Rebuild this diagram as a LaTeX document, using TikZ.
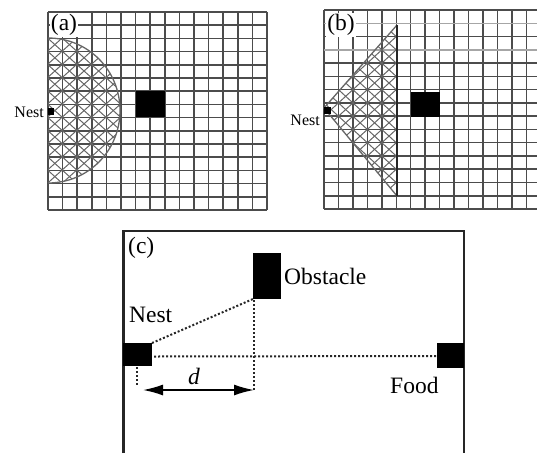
\documentclass[tikz,border=0pt]{standalone}
\usepackage{fontspec}
\usetikzlibrary{arrows.meta}
\setmainfont{Liberation Serif}
\tikzset{
  gline/.style={line width=1.5pt,draw=black!70},
  hatch/.style={line width=1pt,draw=black!60},
  block/.style={fill=black,draw=none,inner sep=0pt,outer sep=0pt,anchor=north west},
  frame/.style={line width=2.2pt,draw=black!85},
  dots/.style={line width=2pt,dash pattern=on 2pt off 2pt,draw=black!85},
  big/.style={font=\fontsize{23.5}{25}\selectfont,inner sep=0pt},
  small/.style={font=\fontsize{16}{18}\selectfont,inner sep=0pt}
}
\begin{document}
\begin{tikzpicture}[x=1pt,y=-1pt]
\useasboundingbox (0,0) rectangle (537,453);
% panel a grid
\foreach \i in {0,...,15}{
  \draw[gline] ({48+14.6*\i},12) -- ({48+14.6*\i},210);
  \draw[gline] (48,{12+13.2*\i}) -- (267,{12+13.2*\i});
}
\begin{scope}
  \clip (48,38) .. controls (88,38) and (120,70) .. (120,110.5) .. controls (120,151) and (88,183) .. (48,183) -- cycle;
  \foreach \k in {-14,...,14}{
    \draw[hatch] ({48+14.6*\k},25.2) -- ({48+14.6*\k+14.6*14},{25.2+13.2*14});
    \draw[hatch] ({48+14.6*\k},196) -- ({48+14.6*\k+14.6*14},{196-13.2*14});
  }
\end{scope}
\draw[hatch,line width=1.3pt] (48,38) .. controls (88,38) and (120,70) .. (120,110.5) .. controls (120,151) and (88,183) .. (48,183);
\node[block,minimum width=29pt,minimum height=26pt] (obsA) at (136,91) {};
\node[block,minimum width=6pt,minimum height=7pt] (nestA) at (48,108) {};
\node[small,anchor=east] (nestAl) at (44,112) {Nest};
\node[big,fill=white,anchor=center,inner sep=1pt] (la) at (64,25) {(a)};
% panel b grid
\foreach \i in {0,...,14}{
  \draw[gline] ({324+14.45*\i},10) -- ({324+14.45*\i},209);
}
\foreach \i in {0,...,15}{
  \ifnum\i=1\relax\else\ifnum\i=3\relax\else
  \draw[gline] (324,{10+13.27*\i}) -- (537,{10+13.27*\i});
  \fi\fi
}
\draw[line width=1.5pt,draw=black!35] (324,23.3) -- (537,23.3);
\draw[line width=1.5pt,draw=black!35] (324,49.8) -- (537,49.8);
\begin{scope}
  \clip (324,108) -- (397,25) -- (397,196) -- cycle;
  \foreach \k in {-14,...,14}{
    \draw[hatch] ({324+14.45*\k},23.3) -- ({324+14.45*\k+14.45*14},{23.3+13.27*14});
    \draw[hatch] ({324+14.45*\k},195.8) -- ({324+14.45*\k+14.45*14},{195.8-13.27*14});
  }
\end{scope}
\draw[hatch,line width=1.3pt] (397,25) -- (324,108) -- (397,196);
\draw[gline,draw=black!85] (397,25) -- (397,196);
\node[block,minimum width=29pt,minimum height=25pt] (obsB) at (411,92) {};
\node[block,minimum width=7pt,minimum height=7pt] (nestB) at (324,107) {};
\node[small,anchor=east] (nestBl) at (320,120) {Nest};
\node[big,fill=white,anchor=center,inner sep=1pt] (lb) at (341,25) {(b)};
% panel c
\draw[frame] (123.5,453) -- (123.5,231) -- (464,231) -- (464,453);
\node[block,minimum width=29pt,minimum height=23pt] (nestC) at (123,343) {};
\node[block,minimum width=28pt,minimum height=46pt] (obsC) at (253,253) {};
\node[block,minimum width=27pt,minimum height=25pt] (foodC) at (437,343) {};
\coordinate (nl) at (137,367);
\coordinate (nld) at (137,385);
\coordinate (arrL) at (143,390);
\coordinate (arrR) at (254,390);
\draw[dots] (nestC.north east) -- (obsC.south west);
\draw[dots] (nestC.east) ++(2,2) -- (foodC.west |- 0,356);
\draw[dots] (obsC.south west) ++(1,1) -- (arrR);
\draw[dots] (nl) -- (nld);
\draw[line width=1.6pt,{Latex[length=20pt,width=11pt]}-{Latex[length=20pt,width=11pt]}] (arrL) -- (arrR);
\node[big,anchor=west] (lc) at (128,248) {(c)};
\node[big,anchor=west] (lo) at (284,276) {Obstacle};
\node[big,anchor=west] (ln) at (129,315) {Nest};
\node[big,anchor=west] (lf) at (390,385) {Food};
\node[big,anchor=center,font=\fontsize{23.5}{25}\selectfont\itshape] (ld) at (194,376) {d};
\end{tikzpicture}
\end{document}
